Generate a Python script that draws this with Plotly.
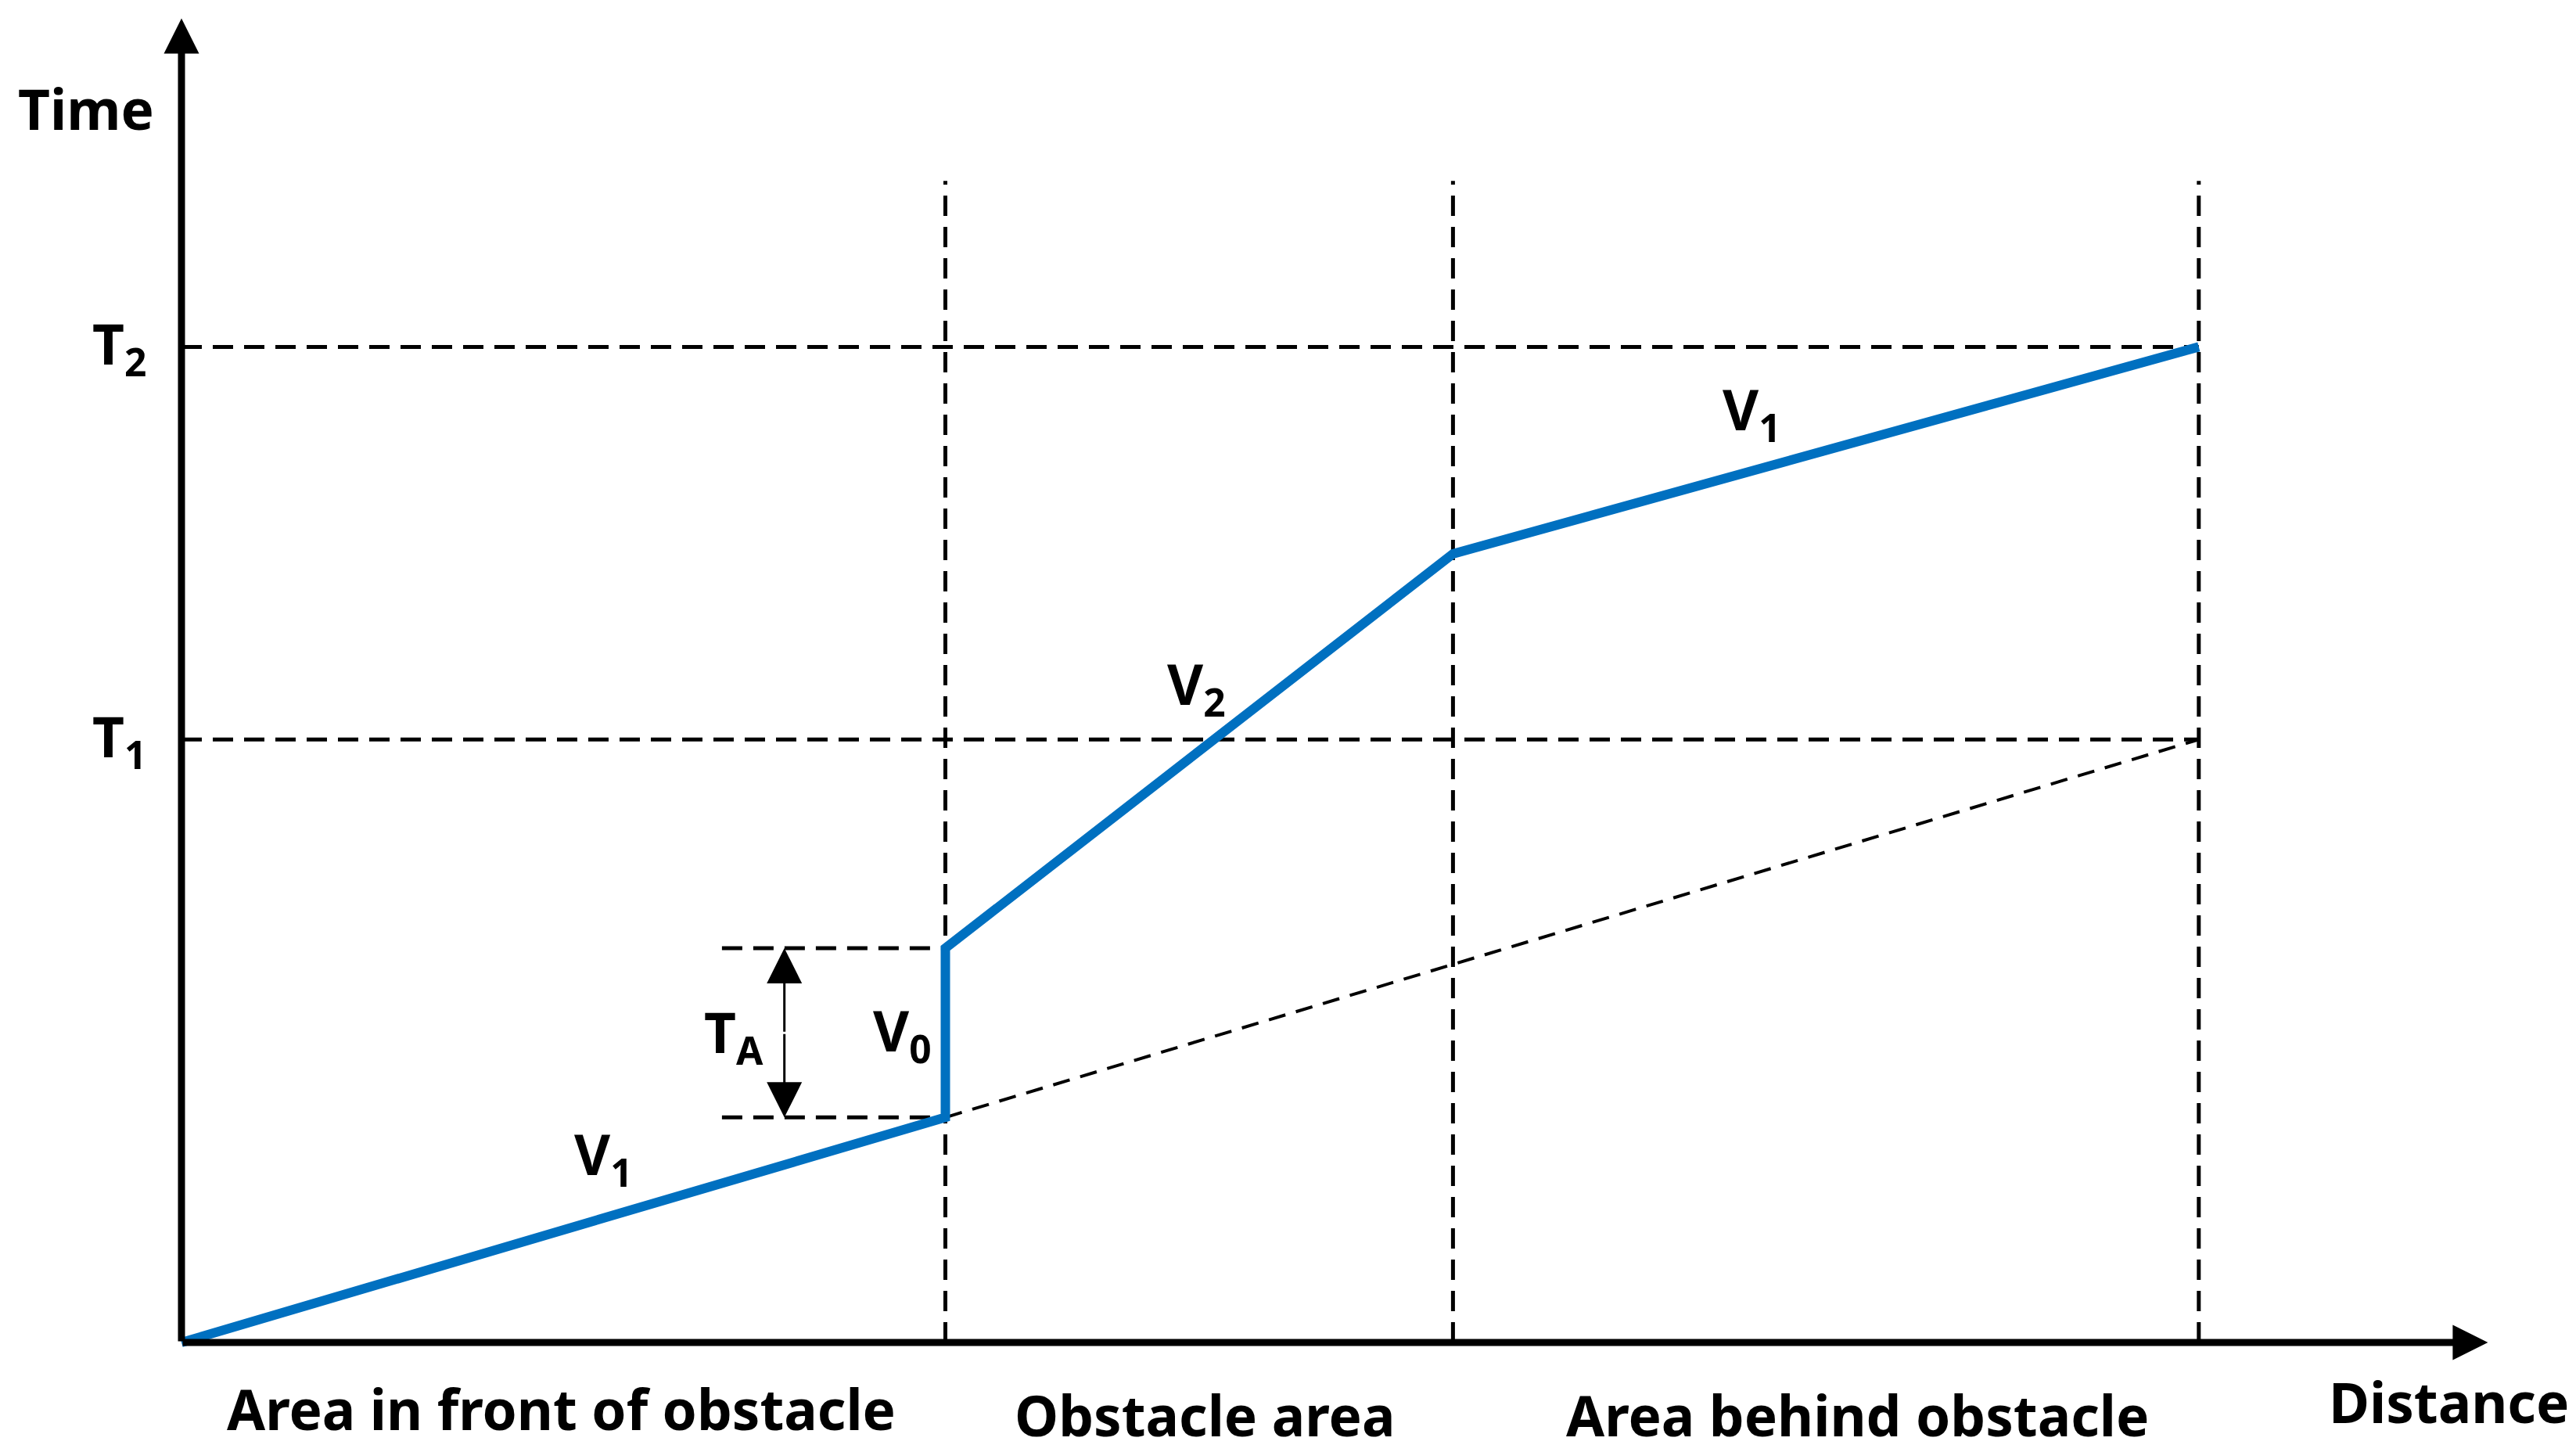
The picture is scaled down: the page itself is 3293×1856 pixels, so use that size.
import plotly.graph_objects as go

# distance / time values (arbitrary units)
region_bounds = [465, 774, 1228]
region_labels = ["Area in front of obstacle", "Obstacle area", "Area behind obstacle"]
region_label_x = [231, 623, 1020]
region_label_y = [-40, -44, -44]
time_levels = [367, 606]
time_labels = ["T<sub>1</sub>", "T<sub>2</sub>"]
guide_top = 707

path_distance = [0, 465, 465, 774, 1228]
path_time = [0, 137, 240, 480, 606]

projection_distance = [465, 1228]
projection_time = [137, 367]

ta_distance = [329, 465]
ta_arrow_x = 367

axis_end_x = 1404
axis_end_y = 806

BLUE = "#0070C0"
FONT = "Noto Sans"
DASH = "26px,14px"
SCALE = 2.1        # figure pixels per unit
ORIGIN_PX = (224, 1708)  # origin position inside the plot div (page body has an 8px margin)

fig = go.Figure()

# vertical guide lines at region boundaries
for b in region_bounds:
    fig.add_trace(go.Scatter(x=[b, b], y=[0, guide_top], mode="lines",
                             line=dict(color="black", width=5, dash=DASH),
                             hoverinfo="skip", showlegend=False))

# horizontal T1 / T2 guide lines
for t in time_levels:
    fig.add_trace(go.Scatter(x=[0, region_bounds[-1]], y=[t, t], mode="lines",
                             line=dict(color="black", width=5, dash=DASH),
                             hoverinfo="skip", showlegend=False))

# T_A guide lines
for t in [path_time[1], path_time[2]]:
    fig.add_trace(go.Scatter(x=ta_distance, y=[t, t], mode="lines",
                             line=dict(color="black", width=5, dash=DASH),
                             hoverinfo="skip", showlegend=False))

# projection without obstacle
fig.add_trace(go.Scatter(x=projection_distance, y=projection_time, mode="lines",
                         line=dict(color="black", width=4, dash="22px,14px"),
                         hoverinfo="skip", showlegend=False))

# the path
fig.add_trace(go.Scatter(x=path_distance, y=path_time, mode="lines",
                         line=dict(color=BLUE, width=12),
                         hoverinfo="skip", showlegend=False))

annotations = []

# axes arrows
annotations.append(dict(x=axis_end_x, y=0, ax=0, ay=0, xref="x", yref="y",
                        axref="x", ayref="y", showarrow=True, arrowhead=2,
                        arrowsize=1.0, arrowwidth=9, arrowcolor="black",
                        standoff=0, startstandoff=0, text=""))
annotations.append(dict(x=0, y=axis_end_y, ax=0, ay=0, xref="x", yref="y",
                        axref="x", ayref="y", showarrow=True, arrowhead=2,
                        arrowsize=1.0, arrowwidth=9, arrowcolor="black",
                        standoff=0, startstandoff=0, text=""))

# T_A double arrow
ta_mid = (path_time[1] + path_time[2]) / 2
for end in [path_time[1], path_time[2]]:
    annotations.append(dict(x=ta_arrow_x, y=end, ax=ta_arrow_x, ay=ta_mid,
                            xref="x", yref="y", axref="x", ayref="y",
                            showarrow=True, arrowhead=2, arrowsize=3,
                            arrowwidth=3, arrowcolor="black", standoff=0, text=""))

def label(text, x, y, size=71):
    annotations.append(dict(x=x, y=y, xref="x", yref="y", text=text,
                            showarrow=False, xanchor="center", yanchor="middle",
                            font=dict(family=FONT, size=size, color="black")))

label("<b>Time</b>", -58, 751)
label("<b>Distance</b>", 1380, -36)
for name, lx, ly in zip(region_labels, region_label_x, region_label_y):
    label("<b>" + name + "</b>", lx, ly)
for name, t in zip(time_labels, time_levels):
    label("<b>" + name + "</b>", -38, t)

label("<b>V<sub>1</sub></b>", 257, 113)
label("<b>V<sub>2</sub></b>", 618, 399)
label("<b>V<sub>1</sub></b>", 956, 566)
label("<b>T<sub>A</sub></b>", 336, 187)
label("<b>V<sub>0</sub></b>", 439, 188)

# axes span the whole canvas so labels outside the drawing stay visible
x_range = [-ORIGIN_PX[0] / SCALE, (3293 - ORIGIN_PX[0]) / SCALE]
y_range = [-(1856 - ORIGIN_PX[1]) / SCALE, ORIGIN_PX[1] / SCALE]

fig.update_layout(
    width=3293, height=1856,
    margin=dict(l=0, r=0, t=0, b=0),
    plot_bgcolor="white", paper_bgcolor="white",
    xaxis=dict(range=x_range, visible=False, autorange=False),
    yaxis=dict(range=y_range, visible=False, autorange=False),
    annotations=annotations,
    showlegend=False,
)

fig.write_html("out.html")
